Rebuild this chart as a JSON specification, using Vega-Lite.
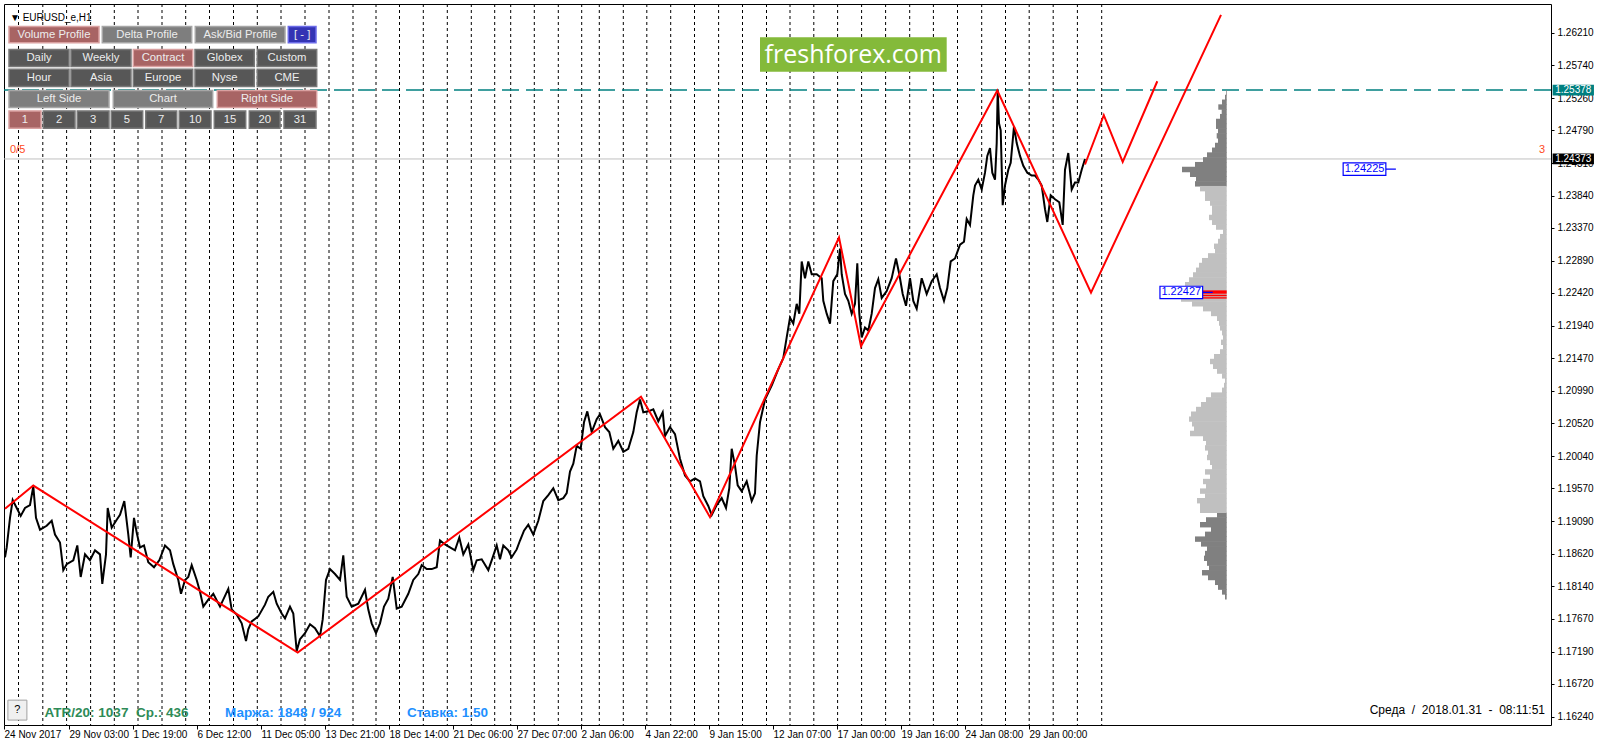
{
  "$schema": "https://vega.github.io/schema/vega-lite/v6.json",
  "width": 1547,
  "height": 721,
  "autosize": {"type": "none"},
  "padding": {"left": 4, "top": 4, "right": 49, "bottom": 22},
  "background": "white",
  "config": {
    "view": {"stroke": "black", "strokeWidth": 1},
    "axis": {"labelFont": "Liberation Sans", "grid": false, "title": null, "labelOverlap": false},
    "text": {"font": "Liberation Sans"}
  },
  "datasets": {
    "seps": [
      {"b": 14.5}, {"b": 38.8}, {"b": 62.6}, {"b": 86.6}, {"b": 110.3}, {"b": 134}, {"b": 158}, {"b": 181.7},
      {"b": 205.5}, {"b": 229.5}, {"b": 253.3}, {"b": 277}, {"b": 301}, {"b": 325}, {"b": 349}, {"b": 372},
      {"b": 395.5}, {"b": 419.3}, {"b": 443.3}, {"b": 467.3}, {"b": 490.7}, {"b": 506.7}, {"b": 530.3}, {"b": 554.3},
      {"b": 577.7}, {"b": 595.3}, {"b": 619.3}, {"b": 642.8}, {"b": 666.7}, {"b": 690.5}, {"b": 714.6}, {"b": 738.5},
      {"b": 762.5}, {"b": 786}, {"b": 809.8}, {"b": 833.6}, {"b": 857.6}, {"b": 881.6}, {"b": 905.7}, {"b": 929.4},
      {"b": 953.5}, {"b": 977.7}, {"b": 1001.5}, {"b": 1025.2}, {"b": 1049.2}, {"b": 1073.4}, {"b": 1097.7}
    ],
    "levels": [
      {"p": 1.25378, "k": "hi"},
      {"p": 1.24373, "k": "bid"}
    ],
    "price": [
      {"b":1,"p":1.18565},{"b":2.7,"p":1.18709},{"b":6,"p":1.1914},{"b":8.7,"p":1.19399},{"b":12.7,"p":1.19284},{"b":16.7,"p":1.19169},{"b":21,"p":1.19284},{"b":26,"p":1.19327},{"b":29.3,"p":1.196},{"b":32,"p":1.1914},
      {"b":36,"p":1.18968},{"b":42.7,"p":1.19025},{"b":47.7,"p":1.19097},{"b":51,"p":1.18896},{"b":56,"p":1.18781},{"b":59.3,"p":1.18378},{"b":62.7,"p":1.18465},{"b":69.3,"p":1.18522},{"b":73.3,"p":1.18738},{"b":76.7,"p":1.18278},
      {"b":81,"p":1.18608},{"b":86,"p":1.18522},{"b":91,"p":1.18666},{"b":96,"p":1.18608},{"b":98.3,"p":1.18177},{"b":102,"p":1.18608},{"b":103.7,"p":1.19284},{"b":107.7,"p":1.18997},{"b":112.7,"p":1.19112},{"b":116,"p":1.19183},
      {"b":120.3,"p":1.19385},{"b":124.3,"p":1.18896},{"b":126.7,"p":1.18565},{"b":130,"p":1.1914},{"b":132.7,"p":1.18925},{"b":136,"p":1.18709},{"b":140,"p":1.18738},{"b":144.3,"p":1.18493},{"b":150,"p":1.18421},{"b":155.3,"p":1.18522},
      {"b":161,"p":1.18738},{"b":166,"p":1.18666},{"b":169.3,"p":1.18465},{"b":174.3,"p":1.18235},{"b":177,"p":1.18033},{"b":181,"p":1.18235},{"b":184.3,"p":1.18278},{"b":187.7,"p":1.1845},{"b":192.7,"p":1.18235},{"b":196,"p":1.18062},
      {"b":199.3,"p":1.17846},{"b":204.3,"p":1.17947},{"b":209.3,"p":1.18033},{"b":216,"p":1.17846},{"b":224.3,"p":1.18105},{"b":227.7,"p":1.17803},{"b":232.7,"p":1.17731},{"b":237.7,"p":1.17602},{"b":242,"p":1.17343},{"b":244.3,"p":1.17516},
      {"b":247.7,"p":1.17631},{"b":254.3,"p":1.17703},{"b":261,"p":1.17875},{"b":264.3,"p":1.1799},{"b":269.3,"p":1.18062},{"b":272.7,"p":1.17889},{"b":277.7,"p":1.17746},{"b":281,"p":1.17674},{"b":286,"p":1.17846},{"b":289.3,"p":1.17746},
      {"b":292.7,"p":1.172},{"b":296,"p":1.17372},{"b":301,"p":1.17458},{"b":306,"p":1.17588},{"b":311,"p":1.1753},{"b":316,"p":1.17415},{"b":318.7,"p":1.17659},{"b":322,"p":1.18235},{"b":326,"p":1.18393},{"b":331,"p":1.18321},
      {"b":336,"p":1.18235},{"b":339.3,"p":1.18594},{"b":342.7,"p":1.1799},{"b":347.7,"p":1.17846},{"b":354.3,"p":1.17889},{"b":361,"p":1.18091},{"b":364.3,"p":1.17803},{"b":367.7,"p":1.17602},{"b":372,"p":1.17458},{"b":376,"p":1.17602},
      {"b":380,"p":1.17846},{"b":384.3,"p":1.17961},{"b":388.7,"p":1.18278},{"b":392.7,"p":1.17818},{"b":397.7,"p":1.17846},{"b":404.3,"p":1.18033},{"b":409.3,"p":1.18235},{"b":414.3,"p":1.18321},{"b":417.7,"p":1.1845},{"b":422.7,"p":1.18393},
      {"b":427.7,"p":1.18393},{"b":432.7,"p":1.18421},{"b":436,"p":1.1881},{"b":441,"p":1.18752},{"b":446,"p":1.18709},{"b":451,"p":1.18666},{"b":455.3,"p":1.18853},{"b":459.3,"p":1.18608},{"b":464.3,"p":1.18752},{"b":469.3,"p":1.18378},
      {"b":472.7,"p":1.18522},{"b":477.7,"p":1.18536},{"b":484.3,"p":1.18378},{"b":488.7,"p":1.18565},{"b":492.7,"p":1.18738},{"b":496,"p":1.18536},{"b":499.3,"p":1.18738},{"b":504.3,"p":1.18666},{"b":507.7,"p":1.18565},{"b":512.7,"p":1.1868},
      {"b":516,"p":1.1881},{"b":520,"p":1.18953},{"b":524.3,"p":1.1904},{"b":529.3,"p":1.18896},{"b":534.3,"p":1.19097},{"b":539.3,"p":1.19385},{"b":544.3,"p":1.19471},{"b":549.3,"p":1.19572},{"b":554.3,"p":1.19399},{"b":559.3,"p":1.19428},
      {"b":562.7,"p":1.195},{"b":566,"p":1.19816},{"b":569.3,"p":1.19931},{"b":572.7,"p":1.2019},{"b":576.7,"p":1.20147},{"b":580,"p":1.20535},{"b":583.3,"p":1.20693},{"b":587.7,"p":1.20391},{"b":592.7,"p":1.20578},{"b":596,"p":1.2065},
      {"b":601,"p":1.20463},{"b":605.3,"p":1.20391},{"b":609.3,"p":1.20147},{"b":614.3,"p":1.20262},{"b":619.3,"p":1.20104},{"b":624.3,"p":1.20147},{"b":629.3,"p":1.20391},{"b":632.7,"p":1.20679},{"b":636,"p":1.20866},{"b":639.3,"p":1.20679},
      {"b":644.3,"p":1.20693},{"b":649.3,"p":1.20722},{"b":654.3,"p":1.20549},{"b":658.7,"p":1.20679},{"b":661,"p":1.20334},{"b":666,"p":1.20463},{"b":671,"p":1.20362},{"b":676,"p":1.20003},{"b":681,"p":1.19759},{"b":686,"p":1.19672},
      {"b":691,"p":1.19716},{"b":696,"p":1.19672},{"b":699.3,"p":1.19457},{"b":704.3,"p":1.19313},{"b":707.7,"p":1.19183},{"b":712.7,"p":1.19327},{"b":717.7,"p":1.19428},{"b":722,"p":1.19284},{"b":725.3,"p":1.19572},{"b":727.7,"p":1.20147},
      {"b":731,"p":1.19902},{"b":733.7,"p":1.19615},{"b":737.7,"p":1.19529},{"b":742.7,"p":1.19672},{"b":747.7,"p":1.19385},{"b":751,"p":1.195},{"b":752.7,"p":1.20046},{"b":756,"p":1.20535},{"b":761,"p":1.20866},{"b":768,"p":1.21081},
      {"b":774,"p":1.21297},{"b":779.3,"p":1.2147},{"b":782.7,"p":1.21772},{"b":786,"p":1.22059},{"b":789.3,"p":1.21973},{"b":792.7,"p":1.2226},{"b":795.3,"p":1.22117},{"b":797.7,"p":1.22879},{"b":801,"p":1.22634},{"b":804.3,"p":1.22879},
      {"b":807.7,"p":1.22692},{"b":812.7,"p":1.22692},{"b":817.7,"p":1.22634},{"b":819.3,"p":1.22304},{"b":822.7,"p":1.22117},{"b":826,"p":1.21973},{"b":829.3,"p":1.22591},{"b":833.3,"p":1.22692},{"b":836,"p":1.23066},{"b":837.7,"p":1.22692},
      {"b":841,"p":1.22404},{"b":844.3,"p":1.22304},{"b":847.7,"p":1.22117},{"b":851,"p":1.2226},{"b":853.3,"p":1.2285},{"b":855.3,"p":1.22117},{"b":857.7,"p":1.21772},{"b":861,"p":1.21915},{"b":864.3,"p":1.21872},{"b":867.7,"p":1.22117},
      {"b":871,"p":1.2249},{"b":874.3,"p":1.2262},{"b":877.7,"p":1.22347},{"b":882.7,"p":1.22447},{"b":887.7,"p":1.22634},{"b":892,"p":1.22922},{"b":895.3,"p":1.22692},{"b":898.7,"p":1.22404},{"b":902,"p":1.22232},{"b":906,"p":1.22634},
      {"b":909.3,"p":1.22304},{"b":912.7,"p":1.22188},{"b":917.7,"p":1.22634},{"b":922.7,"p":1.22404},{"b":927.7,"p":1.22591},{"b":932.7,"p":1.22692},{"b":936,"p":1.2249},{"b":940,"p":1.22304},{"b":943.3,"p":1.2249},{"b":946.7,"p":1.22879},
      {"b":951,"p":1.22922},{"b":956,"p":1.23123},{"b":960,"p":1.23166},{"b":962.7,"p":1.23497},{"b":966,"p":1.23411},{"b":969.3,"p":1.23842},{"b":971,"p":1.23986},{"b":974.3,"p":1.24072},{"b":977.7,"p":1.23928},{"b":981,"p":1.24173},
      {"b":983.3,"p":1.24417},{"b":986,"p":1.24532},{"b":988.3,"p":1.24173},{"b":991,"p":1.24072},{"b":992.7,"p":1.24604},{"b":993.7,"p":1.2537},{"b":995,"p":1.24892},{"b":996.7,"p":1.24791},{"b":998.7,"p":1.23698},{"b":1001,"p":1.23986},
      {"b":1004.3,"p":1.24216},{"b":1006.7,"p":1.24316},{"b":1010,"p":1.24848},{"b":1012.7,"p":1.24604},{"b":1016,"p":1.24417},{"b":1019.3,"p":1.24273},{"b":1023.3,"p":1.24173},{"b":1027.7,"p":1.2413},{"b":1031,"p":1.2413},{"b":1034.3,"p":1.24072},
      {"b":1037.7,"p":1.23986},{"b":1041,"p":1.23641},{"b":1043.3,"p":1.23454},{"b":1046.7,"p":1.23842},{"b":1051,"p":1.23785},{"b":1055.3,"p":1.23741},{"b":1058.7,"p":1.23411},{"b":1061,"p":1.24216},{"b":1064.3,"p":1.2446},{"b":1067.7,"p":1.23928},
      {"b":1071,"p":1.24029},{"b":1074.3,"p":1.24029},{"b":1077.7,"p":1.24216},{"b":1081,"p":1.24373}
    ],
    "zig": [
      {"g":"a","b":1,"p":1.19274},{"g":"a","b":29.3,"p":1.19611},{"g":"a","b":293.7,"p":1.17175},{"g":"a","b":637,"p":1.20905},{"g":"a","b":706,"p":1.1915},
      {"g":"a","b":835,"p":1.23228},{"g":"a","b":857,"p":1.21642},{"g":"a","b":993.3,"p":1.2537},{"g":"a","b":1087,"p":1.22423},{"g":"a","b":1217,"p":1.26473},
      {"g":"b","b":1081,"p":1.24292},{"g":"b","b":1099.8,"p":1.25011},{"g":"b","b":1118.7,"p":1.24331},{"g":"b","b":1153.3,"p":1.25506}
    ],
    "prof": [
      {"p":1.2534,"l":1222,"z":"d"},{"p":1.2527,"l":1221,"z":"d"},{"p":1.252,"l":1218,"z":"d"},{"p":1.2513,"l":1214.3,"z":"d"},{"p":1.2506,"l":1217.7,"z":"d"},
      {"p":1.2499,"l":1216,"z":"d"},{"p":1.2492,"l":1212,"z":"d"},{"p":1.2485,"l":1212,"z":"d"},{"p":1.2478,"l":1214,"z":"d"},{"p":1.2471,"l":1212.7,"z":"d"},
      {"p":1.2464,"l":1214,"z":"d"},{"p":1.2457,"l":1211,"z":"d"},{"p":1.245,"l":1208,"z":"d"},{"p":1.2443,"l":1203,"z":"d"},{"p":1.2436,"l":1199,"z":"d"},
      {"p":1.2429,"l":1191,"z":"d"},{"p":1.2422,"l":1178,"z":"d"},{"p":1.2415,"l":1186,"z":"d"},{"p":1.2408,"l":1192,"z":"d"},{"p":1.2401,"l":1191,"z":"d"},
      {"p":1.2394,"l":1196,"z":"l"},{"p":1.2387,"l":1201,"z":"l"},{"p":1.238,"l":1201,"z":"l"},{"p":1.2373,"l":1206,"z":"l"},{"p":1.2366,"l":1208,"z":"l"},
      {"p":1.2359,"l":1208,"z":"l"},{"p":1.2352,"l":1205,"z":"l"},{"p":1.2345,"l":1208,"z":"l"},{"p":1.2338,"l":1212,"z":"l"},{"p":1.2331,"l":1219,"z":"l"},
      {"p":1.2324,"l":1216,"z":"l"},{"p":1.2317,"l":1214,"z":"l"},{"p":1.231,"l":1210,"z":"l"},{"p":1.2303,"l":1211,"z":"l"},{"p":1.2296,"l":1204,"z":"l"},
      {"p":1.2289,"l":1198,"z":"l"},{"p":1.2282,"l":1195,"z":"l"},{"p":1.2275,"l":1192,"z":"l"},{"p":1.2268,"l":1189,"z":"l"},{"p":1.2261,"l":1185,"z":"l"},
      {"p":1.2254,"l":1181,"z":"l"},{"p":1.2247,"l":1179,"z":"l"},{"p":1.224,"l":1176,"z":"l"},{"p":1.2233,"l":1177,"z":"l"},{"p":1.2226,"l":1188,"z":"l"},
      {"p":1.2219,"l":1199,"z":"l"},{"p":1.2212,"l":1207,"z":"l"},{"p":1.2205,"l":1213,"z":"l"},{"p":1.2198,"l":1215,"z":"l"},{"p":1.2191,"l":1216,"z":"l"},
      {"p":1.2184,"l":1218,"z":"l"},{"p":1.2177,"l":1219,"z":"l"},{"p":1.217,"l":1217,"z":"l"},{"p":1.2163,"l":1219,"z":"l"},{"p":1.2156,"l":1216,"z":"l"},
      {"p":1.2149,"l":1210,"z":"l"},{"p":1.2142,"l":1206,"z":"l"},{"p":1.2135,"l":1209,"z":"l"},{"p":1.2128,"l":1213,"z":"l"},{"p":1.2121,"l":1218,"z":"l"},
      {"p":1.2114,"l":1221,"z":"l"},{"p":1.2107,"l":1220,"z":"l"},{"p":1.21,"l":1218,"z":"l"},{"p":1.2093,"l":1207,"z":"l"},{"p":1.2086,"l":1202,"z":"l"},
      {"p":1.2079,"l":1197,"z":"l"},{"p":1.2072,"l":1192,"z":"l"},{"p":1.2065,"l":1187,"z":"l"},{"p":1.2058,"l":1185,"z":"l"},{"p":1.2051,"l":1188,"z":"l"},
      {"p":1.2044,"l":1190,"z":"l"},{"p":1.2037,"l":1186,"z":"l"},{"p":1.203,"l":1199,"z":"l"},{"p":1.2023,"l":1202,"z":"l"},{"p":1.2016,"l":1201,"z":"l"},
      {"p":1.2009,"l":1204,"z":"l"},{"p":1.2002,"l":1203,"z":"l"},{"p":1.1995,"l":1206,"z":"l"},{"p":1.1988,"l":1208,"z":"l"},{"p":1.1981,"l":1201,"z":"l"},
      {"p":1.1974,"l":1206,"z":"l"},{"p":1.1967,"l":1199,"z":"l"},{"p":1.196,"l":1202,"z":"l"},{"p":1.1953,"l":1196,"z":"l"},{"p":1.1946,"l":1201,"z":"l"},
      {"p":1.1939,"l":1193,"z":"l"},{"p":1.1932,"l":1196,"z":"l"},{"p":1.1925,"l":1196,"z":"l"},{"p":1.1918,"l":1213,"z":"d"},{"p":1.1911,"l":1202,"z":"d"},
      {"p":1.1904,"l":1196,"z":"d"},{"p":1.1897,"l":1207,"z":"d"},{"p":1.189,"l":1201,"z":"d"},{"p":1.1883,"l":1191,"z":"d"},{"p":1.1876,"l":1197,"z":"d"},
      {"p":1.1869,"l":1203,"z":"d"},{"p":1.1862,"l":1201,"z":"d"},{"p":1.1855,"l":1200,"z":"d"},{"p":1.1848,"l":1203,"z":"d"},{"p":1.1841,"l":1205,"z":"d"},
      {"p":1.1834,"l":1198,"z":"d"},{"p":1.1827,"l":1204,"z":"d"},{"p":1.182,"l":1211,"z":"d"},{"p":1.1813,"l":1214,"z":"d"},{"p":1.1806,"l":1218,"z":"d"},
      {"p":1.1799,"l":1221,"z":"d"}
    ],
    "poc": [
      {"hi": 1.22457, "lo": 1.22408},
      {"hi": 1.22394, "lo": 1.22371},
      {"hi": 1.22357, "lo": 1.22337}
    ],
    "tags": [
      {"t": "1.22427", "b": 1177.3, "p": 1.22427},
      {"t": "1.24225", "b": 1360.5, "p": 1.24225}
    ],
    "axtags": [
      {"t": "1.25378", "b": 1569.3, "p": 1.25378, "k": "hi"},
      {"t": "1.24373", "b": 1569.3, "p": 1.24373, "k": "bid"}
    ],
    "btns": [
      {"t":"Volume Profile","l":5,"r":95,"c":50,"hi":1.26305,"lo":1.26066,"m":1.26186,"k":"red"},
      {"t":"Delta Profile","l":98.3,"r":187.7,"c":143,"hi":1.26305,"lo":1.26066,"m":1.26186,"k":"gray"},
      {"t":"Ask/Bid Profile","l":191.3,"r":281,"c":236.2,"hi":1.26305,"lo":1.26066,"m":1.26186,"k":"gray"},
      {"t":"[ - ]","l":284.3,"r":312,"c":298.2,"hi":1.26305,"lo":1.26066,"m":1.26186,"k":"blue"},
      {"t":"Daily","l":5,"r":65,"c":35,"hi":1.2597,"lo":1.25721,"m":1.25846,"k":"dark"},
      {"t":"Weekly","l":67,"r":127,"c":97,"hi":1.2597,"lo":1.25721,"m":1.25846,"k":"dark"},
      {"t":"Contract","l":129.3,"r":188.7,"c":159,"hi":1.2597,"lo":1.25721,"m":1.25846,"k":"red"},
      {"t":"Globex","l":191,"r":250.3,"c":220.7,"hi":1.2597,"lo":1.25721,"m":1.25846,"k":"dark"},
      {"t":"Custom","l":253.3,"r":312.7,"c":283,"hi":1.2597,"lo":1.25721,"m":1.25846,"k":"dark"},
      {"t":"Hour","l":5,"r":65,"c":35,"hi":1.25682,"lo":1.25428,"m":1.25555,"k":"dark"},
      {"t":"Asia","l":67,"r":127,"c":97,"hi":1.25682,"lo":1.25428,"m":1.25555,"k":"dark"},
      {"t":"Europe","l":129.3,"r":188.7,"c":159,"hi":1.25682,"lo":1.25428,"m":1.25555,"k":"dark"},
      {"t":"Nyse","l":191,"r":250.3,"c":220.7,"hi":1.25682,"lo":1.25428,"m":1.25555,"k":"dark"},
      {"t":"CME","l":253.3,"r":312.7,"c":283,"hi":1.25682,"lo":1.25428,"m":1.25555,"k":"dark"},
      {"t":"Left Side","l":5,"r":105,"c":55,"hi":1.2537,"lo":1.25122,"m":1.25246,"k":"gray"},
      {"t":"Chart","l":109.3,"r":208.7,"c":159,"hi":1.2537,"lo":1.25122,"m":1.25246,"k":"gray"},
      {"t":"Right Side","l":213.3,"r":312.7,"c":263,"hi":1.2537,"lo":1.25122,"m":1.25246,"k":"red"},
      {"t":"1","l":5,"r":37,"c":21,"hi":1.25074,"lo":1.2482,"m":1.24947,"k":"red"},
      {"t":"2","l":39.3,"r":71,"c":55.2,"hi":1.25074,"lo":1.2482,"m":1.24947,"k":"dark"},
      {"t":"3","l":73.3,"r":105,"c":89.2,"hi":1.25074,"lo":1.2482,"m":1.24947,"k":"dark"},
      {"t":"5","l":107.3,"r":138.7,"c":123,"hi":1.25074,"lo":1.2482,"m":1.24947,"k":"dark"},
      {"t":"7","l":141.7,"r":172.7,"c":157.2,"hi":1.25074,"lo":1.2482,"m":1.24947,"k":"dark"},
      {"t":"10","l":175.3,"r":207,"c":191.2,"hi":1.25074,"lo":1.2482,"m":1.24947,"k":"dark"},
      {"t":"15","l":210.3,"r":241.7,"c":226,"hi":1.25074,"lo":1.2482,"m":1.24947,"k":"dark"},
      {"t":"20","l":245.3,"r":276,"c":260.7,"hi":1.25074,"lo":1.2482,"m":1.24947,"k":"dark"},
      {"t":"31","l":280,"r":312,"c":296,"hi":1.25074,"lo":1.2482,"m":1.24947,"k":"dark"}
    ],
    "wm": [
      {"t": "freshforex.com", "l": 756, "r": 942.7, "c": 849.3, "hi": 1.26147, "lo": 1.25643, "m": 1.25895}
    ],
    "title": [{"t": "▼ EURUSD_e,H1", "b": 6, "p": 1.26434}],
    "orange": [
      {"t": "0/5", "b": 6, "p": 1.24508},
      {"t": "3", "b": 1535, "p": 1.24508}
    ],
    "green": [{"t": "ATR/20: 1037\u00a0\u00a0Ср.: 436", "b": 40.6, "p": 1.16301}],
    "blue": [
      {"t": "Маржа: 1848 / 924", "b": 221, "p": 1.16301},
      {"t": "Ставка: 1.50", "b": 403, "p": 1.16301}
    ],
    "clock": [{"t": "Среда\u00a0 /\u00a0 2018.01.31\u00a0 -\u00a0 08:11:51", "b": 1541, "p": 1.16336}],
    "help": [{"t": "?", "b": 13.4, "p": 1.16337}]
  },
  "layer": [
    {
      "data": {"name": "seps"},
      "mark": {"type": "rule", "color": "black", "strokeDash": [3, 3], "strokeWidth": 1},
      "encoding": {
        "x": {
          "field": "b", "type": "quantitative", "scale": {"domain": [0, 1547]},
          "axis": {
            "orient": "bottom", "title": null, "grid": false, "domain": false, "tickCount": 40,
            "values": [0, 65, 129, 193, 257, 321, 385, 449, 513, 577, 641, 705, 769, 833, 897, 961, 1025],
            "labelExpr": "['24 Nov 2017','29 Nov 03:00','1 Dec 19:00','6 Dec 12:00','11 Dec 05:00','13 Dec 21:00','18 Dec 14:00','21 Dec 06:00','27 Dec 07:00','2 Jan 06:00','4 Jan 22:00','9 Jan 15:00','12 Jan 07:00','17 Jan 00:00','19 Jan 16:00','24 Jan 08:00','29 Jan 00:00'][round(datum.value/64)]",
            "ticks": true, "tickSize": 4, "tickColor": "black", "labelAlign": "left", "labelBaseline": "top",
            "labelPadding": 0, "labelFontSize": 10, "labelColor": "black", "labelOverlap": false, "labelFlush": false
          }
        }
      }
    },
    {
      "data": {"name": "levels"},
      "transform": [{"filter": "datum.k == 'hi'"}],
      "mark": {"type": "rule", "color": "#008080", "strokeDash": [17, 7], "strokeWidth": 1.6},
      "encoding": {
        "y": {
          "field": "p", "type": "quantitative", "scale": {"domain": [1.161928, 1.265594]},
          "axis": {
            "orient": "right", "title": null, "grid": false, "domain": false, "format": ".5f", "tickCount": 40,
            "values": [1.2621, 1.2574, 1.2526, 1.2479, 1.2431, 1.2384, 1.2337, 1.2289, 1.2242, 1.2194, 1.2147, 1.2099, 1.2052, 1.2004, 1.1957, 1.1909, 1.1862, 1.1814, 1.1767, 1.1719, 1.1672, 1.1624],
            "ticks": true, "tickSize": 3, "tickColor": "black", "labelPadding": 3, "labelFontSize": 10,
            "labelColor": "black", "labelOverlap": false, "labelSeparation": 0, "labelFlush": false, "labelBaseline": "middle"
          }
        }
      }
    },
    {
      "data": {"name": "levels"},
      "transform": [{"filter": "datum.k == 'bid'"}],
      "mark": {"type": "rule", "color": "#C0C0C0", "strokeWidth": 1},
      "encoding": {"y": {"field": "p", "type": "quantitative", "scale": {"domain": [1.161928, 1.265594]}}}
    },
    {
      "data": {"name": "prof"},
      "transform": [{"filter": "datum.z == 'd'"}],
      "mark": {"type": "bar", "orient": "horizontal", "height": 5.4, "color": "#808080"},
      "encoding": {
        "y": {"field": "p", "type": "quantitative", "scale": {"domain": [1.161928, 1.265594]}},
        "x": {"field": "l", "type": "quantitative", "scale": {"domain": [0, 1547]}},
        "x2": {"datum": 1222.7}
      }
    },
    {
      "data": {"name": "prof"},
      "transform": [{"filter": "datum.z == 'l'"}],
      "mark": {"type": "bar", "orient": "horizontal", "height": 5.4, "color": "#C0C0C0"},
      "encoding": {
        "y": {"field": "p", "type": "quantitative", "scale": {"domain": [1.161928, 1.265594]}},
        "x": {"field": "l", "type": "quantitative", "scale": {"domain": [0, 1547]}},
        "x2": {"datum": 1222.7}
      }
    },
    {
      "data": {"name": "poc"},
      "mark": {"type": "rect", "color": "#FF0000"},
      "encoding": {
        "y": {"field": "hi", "type": "quantitative", "scale": {"domain": [1.161928, 1.265594]}},
        "y2": {"field": "lo"},
        "x": {"datum": 1198.7, "type": "quantitative", "scale": {"domain": [0, 1547]}},
        "x2": {"datum": 1222.7}
      }
    },
    {
      "data": {"name": "price"},
      "mark": {"type": "line", "color": "black", "strokeWidth": 2},
      "encoding": {
        "x": {"field": "b", "type": "quantitative", "scale": {"domain": [0, 1547]}},
        "y": {"field": "p", "type": "quantitative", "scale": {"domain": [1.161928, 1.265594]}}
      }
    },
    {
      "data": {"name": "zig"},
      "mark": {"type": "line", "color": "#FF0000", "strokeWidth": 2},
      "encoding": {
        "x": {"field": "b", "type": "quantitative", "scale": {"domain": [0, 1547]}},
        "y": {"field": "p", "type": "quantitative", "scale": {"domain": [1.161928, 1.265594]}},
        "detail": {"field": "g"}
      }
    },
    {
      "data": {"name": "tags"},
      "mark": {"type": "point", "shape": "M-1,-0.29H1V0.29H-1Z M1,0H1.47", "size": 1823, "filled": true, "fill": "white", "stroke": "#0000FF", "strokeWidth": 1.2, "opacity": 1},
      "encoding": {
        "x": {"field": "b", "type": "quantitative", "scale": {"domain": [0, 1547]}},
        "y": {"field": "p", "type": "quantitative", "scale": {"domain": [1.161928, 1.265594]}}
      }
    },
    {
      "data": {"name": "tags"},
      "mark": {"type": "text", "color": "#0000FF", "fontSize": 11, "align": "center", "baseline": "middle"},
      "encoding": {
        "x": {"field": "b", "type": "quantitative", "scale": {"domain": [0, 1547]}},
        "y": {"field": "p", "type": "quantitative", "scale": {"domain": [1.161928, 1.265594]}},
        "text": {"field": "t"}
      }
    },
    {
      "data": {"name": "axtags"},
      "transform": [{"filter": "datum.k == 'hi'"}],
      "mark": {"type": "point", "shape": "M-1,-0.26H1V0.26H-1Z", "size": 1706, "filled": true, "color": "#008080", "opacity": 1},
      "encoding": {
        "x": {"field": "b", "type": "quantitative", "scale": {"domain": [0, 1547]}},
        "y": {"field": "p", "type": "quantitative", "scale": {"domain": [1.161928, 1.265594]}}
      }
    },
    {
      "data": {"name": "axtags"},
      "transform": [{"filter": "datum.k == 'bid'"}],
      "mark": {"type": "point", "shape": "M-1,-0.26H1V0.26H-1Z", "size": 1706, "filled": true, "color": "black", "opacity": 1},
      "encoding": {
        "x": {"field": "b", "type": "quantitative", "scale": {"domain": [0, 1547]}},
        "y": {"field": "p", "type": "quantitative", "scale": {"domain": [1.161928, 1.265594]}}
      }
    },
    {
      "data": {"name": "axtags"},
      "mark": {"type": "text", "color": "white", "fontSize": 10, "align": "center", "baseline": "middle"},
      "encoding": {
        "x": {"field": "b", "type": "quantitative", "scale": {"domain": [0, 1547]}},
        "y": {"field": "p", "type": "quantitative", "scale": {"domain": [1.161928, 1.265594]}},
        "text": {"field": "t"}
      }
    },
    {
      "data": {"name": "btns"},
      "mark": {"type": "rect", "strokeWidth": 1.5},
      "encoding": {
        "x": {"field": "l", "type": "quantitative", "scale": {"domain": [0, 1547]}},
        "x2": {"field": "r"},
        "y": {"field": "hi", "type": "quantitative", "scale": {"domain": [1.161928, 1.265594]}},
        "y2": {"field": "lo"},
        "fill": {"field": "k", "type": "nominal", "scale": {"domain": ["red", "gray", "dark", "blue"], "range": ["#A86464", "#7E7E7E", "#575757", "#3434B4"]}, "legend": null},
        "stroke": {"field": "k", "type": "nominal", "scale": {"domain": ["red", "gray", "dark", "blue"], "range": ["#D9A0A0", "#A6A6A6", "#787878", "#6B6BE8"]}, "legend": null}
      }
    },
    {
      "data": {"name": "btns"},
      "mark": {"type": "text", "color": "#EDEDED", "fontSize": 11.3, "align": "center", "baseline": "middle"},
      "encoding": {
        "x": {"field": "c", "type": "quantitative", "scale": {"domain": [0, 1547]}},
        "y": {"field": "m", "type": "quantitative", "scale": {"domain": [1.161928, 1.265594]}},
        "text": {"field": "t"}
      }
    },
    {
      "data": {"name": "wm"},
      "mark": {"type": "rect", "color": "#84BA3A"},
      "encoding": {
        "x": {"field": "l", "type": "quantitative", "scale": {"domain": [0, 1547]}},
        "x2": {"field": "r"},
        "y": {"field": "hi", "type": "quantitative", "scale": {"domain": [1.161928, 1.265594]}},
        "y2": {"field": "lo"}
      }
    },
    {
      "data": {"name": "wm"},
      "mark": {"type": "text", "color": "white", "font": "Open Sans", "fontSize": 25, "align": "center", "baseline": "middle"},
      "encoding": {
        "x": {"field": "c", "type": "quantitative", "scale": {"domain": [0, 1547]}},
        "y": {"field": "m", "type": "quantitative", "scale": {"domain": [1.161928, 1.265594]}},
        "text": {"field": "t"}
      }
    },
    {
      "data": {"name": "title"},
      "mark": {"type": "text", "color": "black", "fontSize": 10, "align": "left", "baseline": "middle"},
      "encoding": {
        "x": {"field": "b", "type": "quantitative", "scale": {"domain": [0, 1547]}},
        "y": {"field": "p", "type": "quantitative", "scale": {"domain": [1.161928, 1.265594]}},
        "text": {"field": "t"}
      }
    },
    {
      "data": {"name": "orange"},
      "mark": {"type": "text", "color": "#FF4A1C", "fontSize": 11, "align": "left", "baseline": "middle"},
      "encoding": {
        "x": {"field": "b", "type": "quantitative", "scale": {"domain": [0, 1547]}},
        "y": {"field": "p", "type": "quantitative", "scale": {"domain": [1.161928, 1.265594]}},
        "text": {"field": "t"}
      }
    },
    {
      "data": {"name": "green"},
      "mark": {"type": "text", "color": "#2E8B57", "fontSize": 13.5, "fontWeight": "bold", "align": "left", "baseline": "middle"},
      "encoding": {
        "x": {"field": "b", "type": "quantitative", "scale": {"domain": [0, 1547]}},
        "y": {"field": "p", "type": "quantitative", "scale": {"domain": [1.161928, 1.265594]}},
        "text": {"field": "t"}
      }
    },
    {
      "data": {"name": "blue"},
      "mark": {"type": "text", "color": "#1E90FF", "fontSize": 13.5, "fontWeight": "bold", "align": "left", "baseline": "middle"},
      "encoding": {
        "x": {"field": "b", "type": "quantitative", "scale": {"domain": [0, 1547]}},
        "y": {"field": "p", "type": "quantitative", "scale": {"domain": [1.161928, 1.265594]}},
        "text": {"field": "t"}
      }
    },
    {
      "data": {"name": "clock"},
      "mark": {"type": "text", "color": "black", "fontSize": 12, "align": "right", "baseline": "middle"},
      "encoding": {
        "x": {"field": "b", "type": "quantitative", "scale": {"domain": [0, 1547]}},
        "y": {"field": "p", "type": "quantitative", "scale": {"domain": [1.161928, 1.265594]}},
        "text": {"field": "t"}
      }
    },
    {
      "data": {"name": "help"},
      "mark": {"type": "point", "shape": "M-1,-1.05H1V1.05H-1Z", "size": 361, "filled": true, "fill": "#F0F0F0", "stroke": "#A0A0A0", "strokeWidth": 1, "opacity": 1},
      "encoding": {
        "x": {"field": "b", "type": "quantitative", "scale": {"domain": [0, 1547]}},
        "y": {"field": "p", "type": "quantitative", "scale": {"domain": [1.161928, 1.265594]}}
      }
    },
    {
      "data": {"name": "help"},
      "mark": {"type": "text", "color": "black", "fontSize": 11, "align": "center", "baseline": "middle"},
      "encoding": {
        "x": {"field": "b", "type": "quantitative", "scale": {"domain": [0, 1547]}},
        "y": {"field": "p", "type": "quantitative", "scale": {"domain": [1.161928, 1.265594]}},
        "text": {"field": "t"}
      }
    }
  ]
}
